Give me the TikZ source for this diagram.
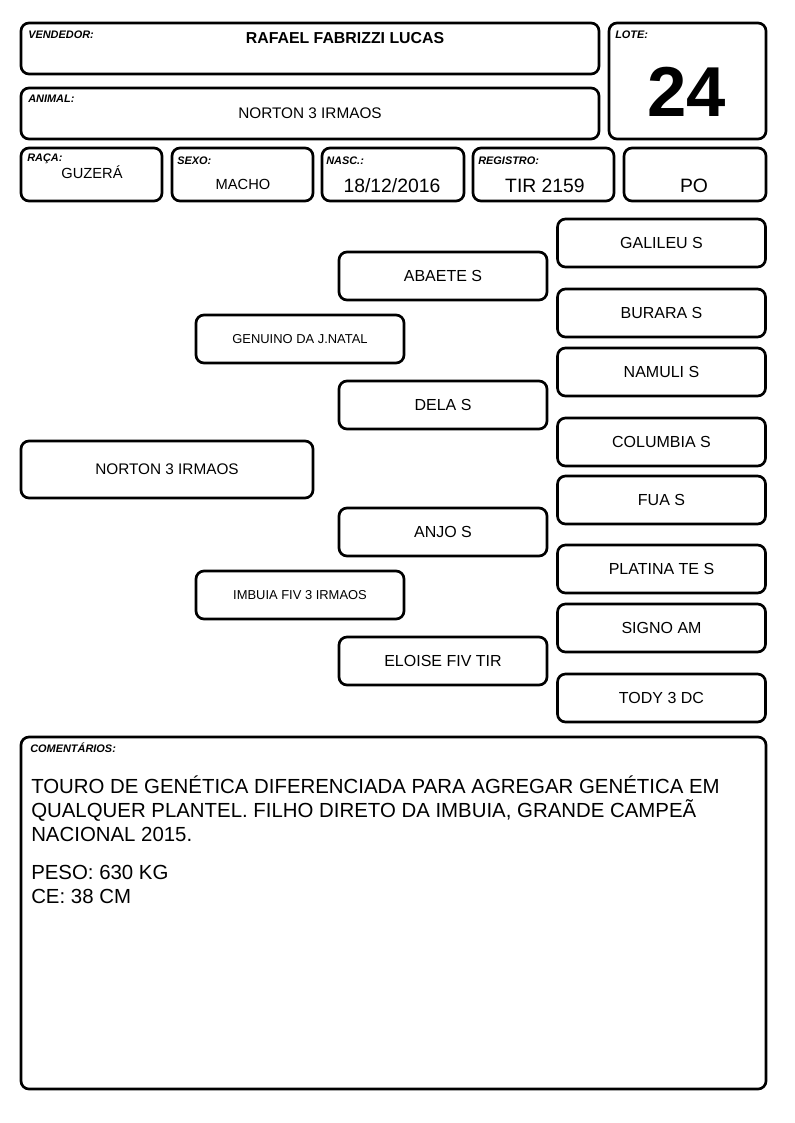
\documentclass[tikz,border=0pt]{standalone}
\usepackage{fontspec}
\setmainfont{Liberation Sans}
\begin{document}
\begin{tikzpicture}[x=0.75pt,y=-0.75pt,
  caixa/.style={draw, line width=2pt, rounded corners=6pt, inner sep=0pt},
  rotulo/.style={anchor=west, inner sep=0pt, font=\fontsize{8.2}{9}\selectfont\bfseries\itshape},
  valor/.style={inner sep=0pt, font=\fontsize{11}{13}\selectfont},
  valorg/.style={inner sep=0pt, font=\fontsize{14.5}{17}\selectfont},
  ped/.style={caixa, minimum width=156pt, minimum height=36pt, font=\fontsize{12}{14}\selectfont},
  pedpeq/.style={ped, font=\fontsize{9.7}{11}\selectfont}]
\useasboundingbox (0,0) rectangle (794,1123);
% cabecalho
\node[caixa, minimum width=433.5pt, minimum height=38.25pt] (vend) at (310,48.5) {};
\node[rotulo] (vendlab) at (28,35) {VENDEDOR:};
\node[inner sep=0pt, font=\fontsize{11.9}{13}\selectfont\bfseries] (vendnome) at (345,38) {RAFAEL FABRIZZI LUCAS};
\node[caixa, minimum width=433.5pt, minimum height=38.25pt] (anim) at (310,113.5) {};
\node[rotulo] (animlab) at (28,99) {ANIMAL:};
\node[inner sep=0pt, font=\fontsize{11.5}{13}\selectfont] (animnome) at (310,113) {NORTON 3 IRMAOS};
\node[caixa, minimum width=117.75pt, minimum height=87pt] (lote) at (687.5,81) {};
\node[rotulo] (lotelab) at (615,35) {LOTE:};
\node[inner sep=0pt, font=\fontsize{53}{56}\selectfont\bfseries] (lotenum) at (687,92) {24};
% linha de dados
\node[caixa, minimum width=105.75pt, minimum height=39.75pt] (raca) at (91.5,174.5) {};
\node[rotulo] (racalab) at (27,159) {RAÇA:};
\node[valor] (racaval) at (92,172) {GUZERÁ};
\node[caixa, minimum width=105.75pt, minimum height=39.75pt] (sexo) at (242.5,174.5) {};
\node[rotulo] (sexolab) at (177,161) {SEXO:};
\node[valor] (sexoval) at (243,184) {MACHO};
\node[caixa, minimum width=106.5pt, minimum height=39.75pt] (nasc) at (393,174.5) {};
\node[rotulo] (nasclab) at (326,161) {NASC.:};
\node[valorg] (nascval) at (392,186) {18/12/2016};
\node[caixa, minimum width=105.75pt, minimum height=39.75pt] (reg) at (543.5,174.5) {};
\node[rotulo] (reglab) at (478,161) {REGISTRO:};
\node[valorg] (regval) at (545,186) {TIR 2159};
\node[caixa, minimum width=106.5pt, minimum height=39.75pt] (cat) at (695,174.5) {};
\node[valorg] (catval) at (694,186) {PO};
% genealogia
\node[caixa, minimum width=219pt, minimum height=42.75pt, font=\fontsize{11.5}{13}\selectfont] (animal) at (167,469.5) {NORTON 3 IRMAOS};
\node[pedpeq] (pai) at (300,339) {GENUINO DA J.NATAL};
\node[pedpeq] (mae) at (300,595) {IMBUIA FIV 3 IRMAOS};
\node[ped] (avopp) at (443,276) {ABAETE S};
\node[ped] (avopm) at (443,405) {DELA S};
\node[ped] (avomp) at (443,532) {ANJO S};
\node[ped] (avomm) at (443,661) {ELOISE FIV TIR};
\node[ped] (bis1) at (661.5,243) {GALILEU S};
\node[ped] (bis2) at (661.5,313) {BURARA S};
\node[ped] (bis3) at (661.5,372) {NAMULI S};
\node[ped] (bis4) at (661.5,442) {COLUMBIA S};
\node[ped] (bis5) at (661.5,500) {FUA S};
\node[ped] (bis6) at (661.5,569) {PLATINA TE S};
\node[ped] (bis7) at (661.5,628) {SIGNO AM};
\node[ped] (bis8) at (661.5,698) {TODY 3 DC};
% comentarios
\node[caixa, minimum width=558.75pt, minimum height=264pt] (coment) at (393.5,913) {};
\node[rotulo] (comentlab) at (30,748) {COMENTÁRIOS:};
\node[anchor=north west, inner sep=0pt, align=left, font=\fontsize{15.3}{18}\selectfont] (comenttxt) at (31,775.5)
  {TOURO DE GENÉTICA DIFERENCIADA PARA AGREGAR GENÉTICA EM\\
   QUALQUER PLANTEL. FILHO DIRETO DA IMBUIA, GRANDE CAMPEÃ\\
   NACIONAL 2015.\\[10.5pt]
   PESO: 630 KG\\
   CE: 38 CM};
\end{tikzpicture}
\end{document}
